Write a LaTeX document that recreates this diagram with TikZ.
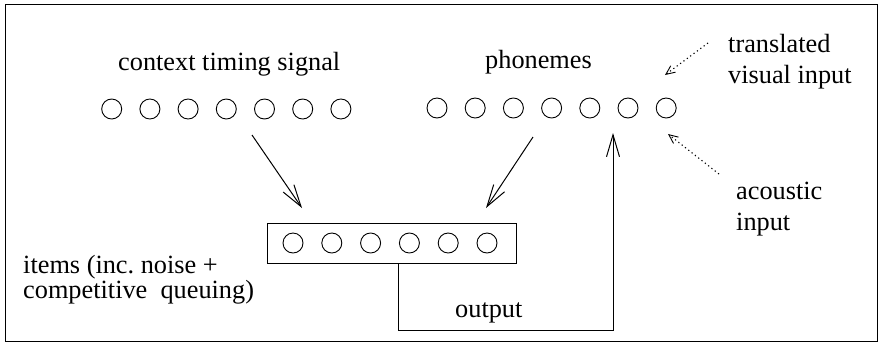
\documentclass[tikz,border=0pt]{standalone}
\usepackage{fontspec}
\setmainfont{Liberation Serif}
\newfontfamily\tnrfont{Liberation Serif}
\usetikzlibrary{arrows.meta,calc}
\begin{document}
\begin{tikzpicture}[x=1pt,y=-1pt,
  unit/.style={circle,draw,line width=0.9pt,minimum size=20pt,inner sep=0pt},
  lbl/.style={anchor=base west,inner sep=0pt,align=left,font=\tnrfont\fontsize{26.3}{31}\selectfont},
  conn/.style={line width=1pt,-{Straight Barb[length=22pt,width=13pt,line width=1pt]}},
  dots/.style={line width=1.1pt,dash pattern=on 1.2pt off 3pt,-{Straight Barb[length=9pt,width=8pt,line width=0.9pt]}}]
\useasboundingbox (0,0) rectangle (880,360);
\draw[line width=1pt] (5,4) rectangle (877,341);
% rows of units
\foreach \i in {1,...,7} {
  \node[unit] (c\i) at ({111.7+38.2*(\i-1)},109) {};
  \node[unit] (p\i) at ({437+38.2*(\i-1)},108) {};
}
% items box
\node[draw,line width=1pt,minimum width=249pt,minimum height=40pt,inner sep=0pt] (box) at (391.5,243) {};
\foreach \i in {1,...,6} {
  \node[unit] (i\i) at ({293+38.8*(\i-1)},243) {};
}
% labels (base anchor of a multi-line node is its last line)
\node[lbl] (ctxlbl) at (118,70) {context timing signal};
\node[lbl] (phonlbl) at (485,68) {phonemes};
\node[lbl] (vislbl) at (728,83) {translated\\visual input};
\node[lbl] (acolbl) at (736,230) {acoustic\\input};
\node[lbl,font=\tnrfont\fontsize{26.3}{25}\selectfont] (itemlbl) at (23,298) {items (inc.\ noise +\\competitive\ \ queuing)};
\node[lbl] (outlbl) at (455,317) {output};
% connectors
\coordinate (a1s) at (252,135);
\coordinate (a1e) at (302,208);
\coordinate (a2s) at (533,137);
\coordinate (a2e) at (486,208);
\draw[conn] (a1s) -- (a1e);
\draw[conn] (a2s) -- (a2e);
\coordinate (o1) at (398,263);
\coordinate (o2) at (398,330);
\coordinate (o3) at (613,330);
\coordinate (o4) at (613,133);
\draw[conn] (o1) -- (o2) -- (o3) -- (o4);
\coordinate (v1) at (708,43);
\coordinate (v2) at (665,75);
\coordinate (ac1) at (719,174);
\coordinate (ac2) at (668,134);
\draw[dots] (v1) -- (v2);
\draw[dots] (ac1) -- (ac2);
\end{tikzpicture}
\end{document}
